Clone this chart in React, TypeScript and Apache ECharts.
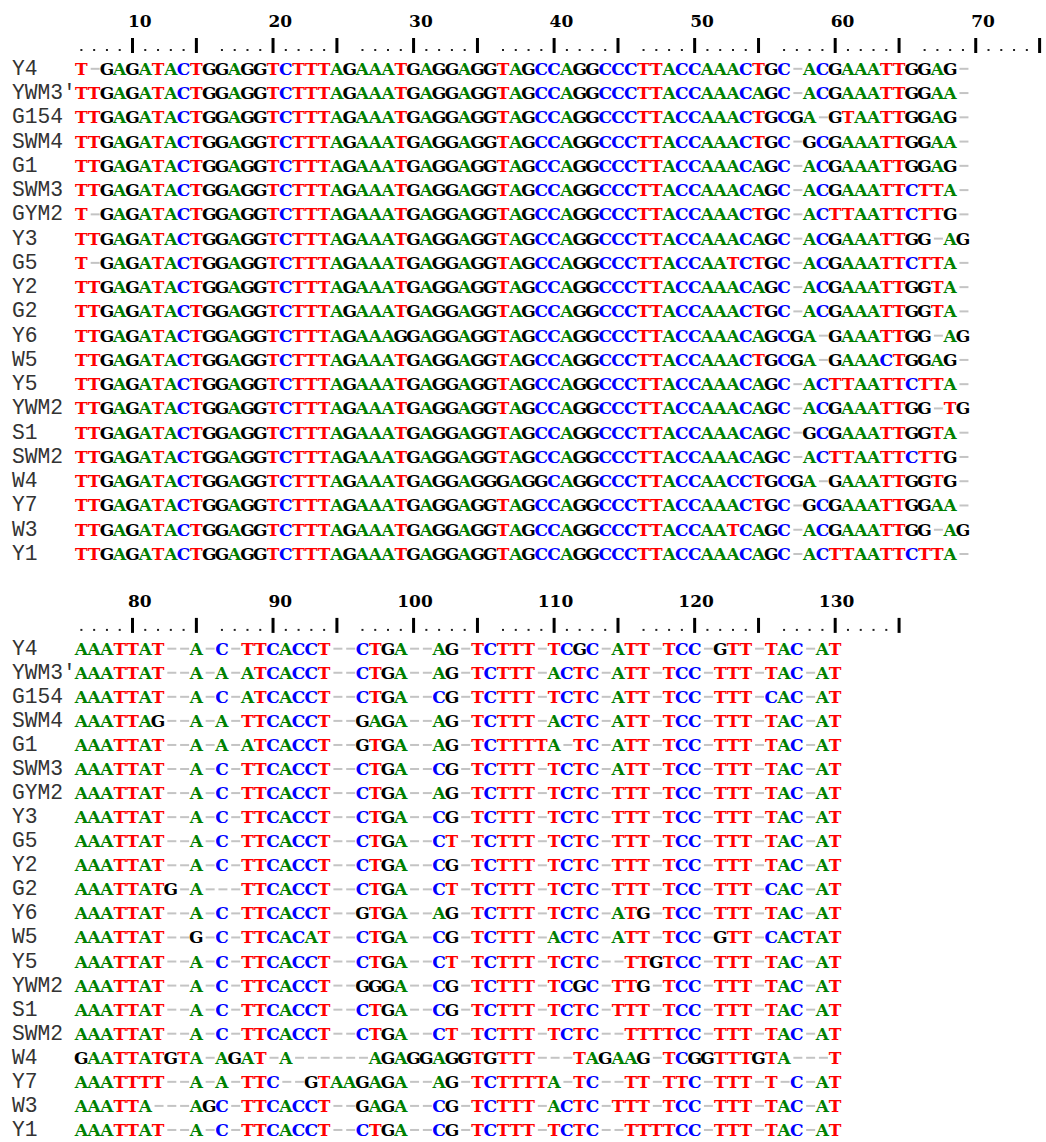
import React, { useEffect, useRef } from 'react';
import * as echarts from 'echarts';

const names = ['Y4', 'YWM3′', 'G154', 'SWM4', 'G1', 'SWM3', 'GYM2', 'Y3', 'G5', 'Y2', 'G2', 'Y6', 'W5', 'Y5', 'YWM2', 'S1', 'SWM2', 'W4', 'Y7', 'W3', 'Y1'];

// alignment columns 1-70
const block1 = [
  'T-GAGATACTGGAGGTCTTTAGAAATGAGGAGGTAGCCAGGCCCTTACCAAACTGC-ACGAAATTGGAG-',
  'TTGAGATACTGGAGGTCTTTAGAAATGAGGAGGTAGCCAGGCCCTTACCAAACAGC-ACGAAATTGGAA-',
  'TTGAGATACTGGAGGTCTTTAGAAATGAGGAGGTAGCCAGGCCCTTACCAAACTGCGA-GTAATTGGAG-',
  'TTGAGATACTGGAGGTCTTTAGAAATGAGGAGGTAGCCAGGCCCTTACCAAACTGC-GCGAAATTGGAA-',
  'TTGAGATACTGGAGGTCTTTAGAAATGAGGAGGTAGCCAGGCCCTTACCAAACAGC-ACGAAATTGGAG-',
  'TTGAGATACTGGAGGTCTTTAGAAATGAGGAGGTAGCCAGGCCCTTACCAAACAGC-ACGAAATTCTTA-',
  'T-GAGATACTGGAGGTCTTTAGAAATGAGGAGGTAGCCAGGCCCTTACCAAACTGC-ACTTAATTCTTG-',
  'TTGAGATACTGGAGGTCTTTAGAAATGAGGAGGTAGCCAGGCCCTTACCAAACAGC-ACGAAATTGG-AG',
  'T-GAGATACTGGAGGTCTTTAGAAATGAGGAGGTAGCCAGGCCCTTACCAATCTGC-ACGAAATTCTTA-',
  'TTGAGATACTGGAGGTCTTTAGAAATGAGGAGGTAGCCAGGCCCTTACCAAACAGC-ACGAAATTGGTA-',
  'TTGAGATACTGGAGGTCTTTAGAAATGAGGAGGTAGCCAGGCCCTTACCAAACTGC-ACGAAATTGGTA-',
  'TTGAGATACTGGAGGTCTTTAGAAAGGAGGAGGTAGCCAGGCCCTTACCAAACAGCGA-GAAATTGG-AG',
  'TTGAGATACTGGAGGTCTTTAGAAATGAGGAGGTAGCCAGGCCCTTACCAAACTGCGA-GAAACTGGAG-',
  'TTGAGATACTGGAGGTCTTTAGAAATGAGGAGGTAGCCAGGCCCTTACCAAACAGC-ACTTAATTCTTA-',
  'TTGAGATACTGGAGGTCTTTAGAAATGAGGAGGTAGCCAGGCCCTTACCAAACAGC-ACGAAATTGG-TG',
  'TTGAGATACTGGAGGTCTTTAGAAATGAGGAGGTAGCCAGGCCCTTACCAAACAGC-GCGAAATTGGTA-',
  'TTGAGATACTGGAGGTCTTTAGAAATGAGGAGGTAGCCAGGCCCTTACCAAACAGC-ACTTAATTCTTG-',
  'TTGAGATACTGGAGGTCTTTAGAAATGAGGAGGGAGGCAGGCCCTTACCAACCTGCGA-GAAATTGGTG-',
  'TTGAGATACTGGAGGTCTTTAGAAATGAGGAGGTAGCCAGGCCCTTACCAAACTGC-GCGAAATTGGAA-',
  'TTGAGATACTGGAGGTCTTTAGAAATGAGGAGGTAGCCAGGCCCTTACCAATCAGC-ACGAAATTGG-AG',
  'TTGAGATACTGGAGGTCTTTAGAAATGAGGAGGTAGCCAGGCCCTTACCAAACAGC-ACTTAATTCTTA-',
];

// alignment columns 71-130
const block2 = [
  'AAATTAT--A-C-TTCACCT--CTGA--AG-TCTTT-TCGC-ATT-TCC-GTT-TAC-AT',
  'AAATTAT--A-A-ATCACCT--CTGA--AG-TCTTT-ACTC-ATT-TCC-TTT-TAC-AT',
  'AAATTAT--A-C-ATCACCT--CTGA--CG-TCTTT-TCTC-ATT-TCC-TTT-CAC-AT',
  'AAATTAG--A-A-TTCACCT--GAGA--AG-TCTTT-ACTC-ATT-TCC-TTT-TAC-AT',
  'AAATTAT--A-A-ATCACCT--GTGA--AG-TCTTTTA-TC-ATT-TCC-TTT-TAC-AT',
  'AAATTAT--A-C-TTCACCT--CTGA--CG-TCTTT-TCTC-ATT-TCC-TTT-TAC-AT',
  'AAATTAT--A-C-TTCACCT--CTGA--AG-TCTTT-TCTC-TTT-TCC-TTT-TAC-AT',
  'AAATTAT--A-C-TTCACCT--CTGA--CG-TCTTT-TCTC-TTT-TCC-TTT-TAC-AT',
  'AAATTAT--A-C-TTCACCT--CTGA--CT-TCTTT-TCTC-TTT-TCC-TTT-TAC-AT',
  'AAATTAT--A-C-TTCACCT--CTGA--CG-TCTTT-TCTC-TTT-TCC-TTT-TAC-AT',
  'AAATTATG-A---TTCACCT--CTGA--CT-TCTTT-TCTC-TTT-TCC-TTT-CAC-AT',
  'AAATTAT--A-C-TTCACCT--GTGA--AG-TCTTT-TCTC-ATG-TCC-TTT-TAC-AT',
  'AAATTAT--G-C-TTCACAT--CTGA--CG-TCTTT-ACTC-ATT-TCC-GTT-CACTAT',
  'AAATTAT--A-C-TTCACCT--CTGA--CT-TCTTT-TCTC--TTGTCC-TTT-TAC-AT',
  'AAATTAT--A-C-TTCACCT--GGGA--CG-TCTTT-TCGC-TTG-TCC-TTT-TAC-AT',
  'AAATTAT--A-C-TTCACCT--CTGA--CG-TCTTT-TCTC-TTT-TCC-TTT-TAC-AT',
  'AAATTAT--A-C-TTCACCT--CTGA--CT-TCTTT-TCTC--TTTTCC-TTT-TAC-AT',
  'GAATTATGTA-AGAT-A------AGAGGAGGTGTTT---TAGAAG-TCGGTTTGTA---T',
  'AAATTTT--A-A-TTC--GTAAGAGA--AG-TCTTTTA-TC--TT-TTC-TTT-T-C-AT',
  'AAATTA---AGC-TTCACCT--GAGA--CG-TCTTT-ACTC-TTT-TCC-TTT-TAC-AT',
  'AAATTAT--A-C-TTCACCT--CTGA--CG-TCTTT-TCTC--TTTTCC-TTT-TAC-AT',
];

const rulerLabels1 = ['10', '20', '30', '40', '50', '60', '70'];
const rulerLabels2 = ['80', '90', '100', '110', '120', '130'];

const baseColors: Record<string, string> = { A: '#008000', C: '#0000ff', G: '#000000', T: '#ff0000' };

const CELL = 12.8;
const ROW = 24.26;
const NAME_PX = 21.3;
const LETTER_PX = 17;
const MONO = '"Liberation Mono", "DejaVu Sans Mono", monospace';
const SERIF = '"DejaVu Serif", "Liberation Serif", serif';

function buildOption() {
  const blocks = [
    { seqs: block1, labels: rulerLabels1, top: 68.8 - ROW / 2 },
    { seqs: block2, labels: rulerLabels2, top: 648.8 - ROW / 2 },
  ];
  const nCells = 76;
  const grid: any[] = [];
  const xAxis: any[] = [];
  const yAxis: any[] = [];
  const series: any[] = [];

  blocks.forEach((b, bi) => {
    grid.push({ left: 75, top: b.top, width: nCells * CELL, height: names.length * ROW });
    xAxis.push({ gridIndex: bi, type: 'value', min: 0, max: nCells, show: false });
    yAxis.push({
      gridIndex: bi,
      type: 'category',
      data: names,
      inverse: true,
      axisLine: { show: false },
      axisTick: { show: false },
      splitLine: { show: false },
      axisLabel: {
        interval: 0,
        align: 'left',
        margin: 63,
        fontFamily: MONO,
        fontSize: NAME_PX,
        color: '#333333',
        verticalAlign: 'middle',
      },
    });

    // sequence letters
    const cells: { x: number; y: number; ch: string }[] = [];
    b.seqs.forEach((s, r) => {
      for (let c = 0; c < s.length; c++) cells.push({ x: c + 0.5, y: r, ch: s[c] });
    });
    series.push({
      type: 'custom',
      xAxisIndex: bi,
      yAxisIndex: bi,
      silent: true,
      clip: false,
      data: cells.map((c) => [c.x, c.y]),
      renderItem: (params: any, api: any) => {
        const cell = cells[params.dataIndex];
        const p = api.coord([api.value(0), api.value(1)]);
        if (cell.ch === '-') {
          return {
            type: 'rect',
            shape: { x: p[0] - 3.5, y: p[1] - 1, width: 9, height: 2 },
            style: { fill: '#c4c4c4' },
          };
        }
        return {
          type: 'text',
          x: p[0],
          y: p[1],
          style: {
            text: cell.ch,
            fill: baseColors[cell.ch] || '#000',
            font: `bold ${LETTER_PX}px ${SERIF}`,
            align: 'center',
            verticalAlign: 'middle',
          },
        };
      },
    });

    // ruler marks: groups of 10 positions, one blank cell between groups
    const n = b.seqs[0].length;
    const rulerCellCount = n + Math.floor((n - 1) / 10);
    const marks: { x: number; kind: string }[] = [];
    for (let i = 1; i <= rulerCellCount; i++) {
      const o = (i - 1) % 11;
      if (o === 10) continue;
      marks.push({ x: i - 0.5, kind: o === 4 || o === 9 ? 'tick' : 'dot' });
    }
    series.push({
      type: 'custom',
      xAxisIndex: bi,
      yAxisIndex: bi,
      silent: true,
      clip: false,
      data: marks.map((m) => [m.x, 0]),
      renderItem: (params: any, api: any) => {
        const m = marks[params.dataIndex];
        const p = api.coord([api.value(0), api.value(1)]);
        if (m.kind === 'tick') {
          return { type: 'rect', shape: { x: p[0] - 1.5, y: p[1] - 30.8, width: 3, height: 15 }, style: { fill: '#000' } };
        }
        return { type: 'rect', shape: { x: p[0] - 1, y: p[1] - 19.8, width: 2, height: 2 }, style: { fill: '#222' } };
      },
    });

    // ruler numbers (right edge at end of the cell after the first tick of each group)
    const lab = b.labels.map((t, k) => ({ x: 6 + 11 * k, text: t }));
    series.push({
      type: 'custom',
      xAxisIndex: bi,
      yAxisIndex: bi,
      silent: true,
      clip: false,
      data: lab.map((l) => [l.x, 0]),
      renderItem: (params: any, api: any) => {
        const l = lab[params.dataIndex];
        const p = api.coord([api.value(0), api.value(1)]);
        return {
          type: 'text',
          x: p[0],
          y: p[1] - 48,
          style: {
            text: l.text,
            fill: '#000',
            font: `bold ${LETTER_PX}px ${SERIF}`,
            align: 'right',
            verticalAlign: 'middle',
          },
        };
      },
    });
  });

  return { animation: false, backgroundColor: '#ffffff', grid, xAxis, yAxis, series };
}

export default function App() {
  const ref = useRef<HTMLDivElement>(null);
  useEffect(() => {
    document.body.style.margin = '0';
    const chart = echarts.init(ref.current!, null, { renderer: 'svg' });
    chart.setOption(buildOption() as any);
    return () => chart.dispose();
  }, []);
  return <div ref={ref} style={{ width: 1046, height: 1142 }} />;
}
